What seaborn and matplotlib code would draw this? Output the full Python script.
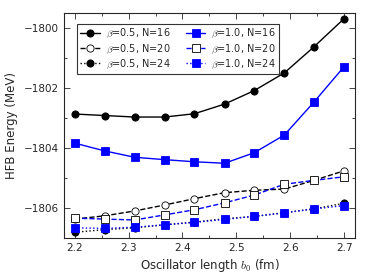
import numpy as np
import pandas as pd
import seaborn as sns
import matplotlib
matplotlib.use("Agg")
import matplotlib.pyplot as plt
from matplotlib.ticker import MultipleLocator

# oscillator lengths b0 (fm)
b0 = [2.2, 2.256, 2.311, 2.367, 2.422, 2.478, 2.533, 2.589, 2.644, 2.7]

# HFB energies (MeV)
e_05_16 = [-1802.87, -1802.92, -1802.97, -1802.97, -1802.86, -1802.54, -1802.09, -1801.50, -1800.63, -1799.69]
e_05_20 = [-1806.37, -1806.26, -1806.10, -1805.90, -1805.69, -1805.49, -1805.41, -1805.37, -1805.08, -1804.76]
e_05_24 = [-1806.81, -1806.72, -1806.66, -1806.56, -1806.47, -1806.36, -1806.28, -1806.16, -1806.03, -1805.84]
e_10_16 = [-1803.84, -1804.10, -1804.31, -1804.39, -1804.46, -1804.51, -1804.16, -1803.57, -1802.47, -1801.29]
e_10_20 = [-1806.34, -1806.37, -1806.40, -1806.23, -1806.06, -1805.83, -1805.57, -1805.21, -1805.08, -1804.96]
e_10_24 = [-1806.66, -1806.68, -1806.64, -1806.56, -1806.48, -1806.38, -1806.28, -1806.16, -1806.03, -1805.92]

sns.set_style("ticks")
plt.rcParams['font.family'] = ['DejaVu Sans']
plt.rcParams['mathtext.fontset'] = 'cm'

fig = plt.figure(figsize=(3.74, 2.8), dpi=100)
ax = fig.add_axes([0.171, 0.15, 0.778, 0.804])

# (data, label, color, linestyle, marker, facecolor)
series = [
    (e_05_16, r'$\beta$=0.5, N=16', 'k', '-', 'o', 'k'),
    (e_05_20, r'$\beta$=0.5, N=20', 'k', '--', 'o', 'white'),
    (e_05_24, r'$\beta$=0.5, N=24', 'k', ':', 'o', 'k'),
    (e_10_16, r'$\beta$=1.0, N=16', 'b', '-', 's', 'b'),
    (e_10_20, r'$\beta$=1.0, N=20', 'b', '--', 's', 'white'),
    (e_10_24, r'$\beta$=1.0, N=24', 'b', ':', 's', 'b'),
]

for data, lab, c, ls, mk, fc in series:
    df = pd.DataFrame({'b0': b0, 'E': data})
    sns.lineplot(data=df, x='b0', y='E', ax=ax, color=c, linestyle=ls,
                 marker=mk, markersize=5.2, markerfacecolor=fc,
                 markeredgecolor='k' if c == 'k' or fc == 'white' else c,
                 markeredgewidth=0.6, linewidth=1.0, label=lab)

ax.set_xlim(2.18, 2.72)
ax.set_ylim(-1807.0, -1799.5)
ax.xaxis.set_major_locator(MultipleLocator(0.1))
ax.xaxis.set_minor_locator(MultipleLocator(0.05))
ax.yaxis.set_major_locator(MultipleLocator(2))
ax.yaxis.set_minor_locator(MultipleLocator(1))
ax.tick_params(which='both', direction='in', top=True, right=True, labelsize=7.5)
ax.tick_params(which='major', length=4, width=0.6)
ax.tick_params(which='minor', length=2, width=0.6)
for s in ax.spines.values():
    s.set_linewidth(0.8)

ax.set_xlabel(r'Oscillator length $b_0$ (fm)', fontsize=8.5, labelpad=3)
ax.set_ylabel('HFB Energy (MeV)', fontsize=8.5, labelpad=4)

leg = ax.legend(loc='upper left', ncol=2, fontsize=7, frameon=True,
                fancybox=False, edgecolor='k', handlelength=2.0,
                handletextpad=0.6, columnspacing=1.6, labelspacing=0.2,
                borderpad=0.35, borderaxespad=0,
                bbox_to_anchor=(0.045, 0.952))
leg.get_frame().set_linewidth(0.8)

fig.savefig('out.png', dpi=100)
